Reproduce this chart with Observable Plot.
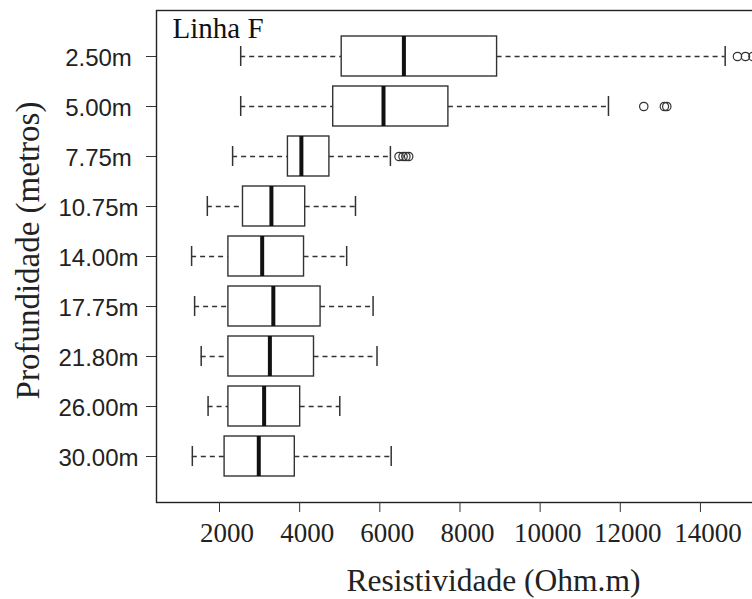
<!DOCTYPE html>
<html><head><meta charset="utf-8">
<script src="https://cdn.jsdelivr.net/npm/d3@7"></script>
<script src="https://cdn.jsdelivr.net/npm/@observablehq/plot@0.6"></script>
<style>
html,body{margin:0;padding:0;background:#fff;overflow:hidden;}
#chart{width:752px;height:599px;overflow:hidden;}
#chart svg{overflow:hidden;}
</style>
</head><body><div id="chart"></div>
<script>
const depths = ["2.50m","5.00m","7.75m","10.75m","14.00m","17.75m","21.80m","26.00m","30.00m"];
const whiskerLow  = [2529, 2529, 2327, 1696, 1304, 1379, 1543, 1715, 1322];
const q1          = [5049, 4837, 3707, 2586, 2222, 2222, 2222, 2222, 2127];
const median      = [6601, 6092, 4043, 3295, 3065, 3343, 3257, 3113, 2980];
const q3          = [8926, 7711, 4742, 4138, 4109, 4522, 4358, 4013, 3879];
const whiskerHigh = [14617, 11705, 6264, 5393, 5173, 5832, 5930, 5001, 6284];
const outlierDepth = ["2.50m","2.50m","2.50m","5.00m","5.00m","5.00m","7.75m","7.75m","7.75m","7.75m"];
const outlierValue = [14924, 15124, 15310, 12586, 13100, 13160, 6480, 6580, 6650, 6720];
const xTicks = [2000, 4000, 6000, 8000, 10000, 12000, 14000];
const panelLabel = "Linha F";
const xTitle = "Resistividade (Ohm.m)";
const yTitle = "Profundidade (metros)";

const rows = depths.map((d, i) => ({depth: d, lo: whiskerLow[i], q1: q1[i], med: median[i], q3: q3[i], hi: whiskerHigh[i]}));
const outliers = outlierValue.map((v, i) => ({depth: outlierDepth[i], value: v}));

const serif = "'Liberation Serif', 'Times New Roman', serif";
const sans = "'Liberation Sans', Arial, sans-serif";
const ink = "#333";
const capInset = 10;

const chart = Plot.plot({
  width: 752,
  height: 599,
  marginLeft: 156,
  marginRight: -78,
  marginTop: 10,
  marginBottom: 97,
  style: {background: "#fff", color: "#222"},
  x: {domain: [428, 17245]},
  y: {type: "band", domain: depths, paddingInner: 0.2, paddingOuter: 0.4615},
  marks: [
    Plot.ruleY(rows, {y: "depth", x1: "lo", x2: "q1", stroke: ink, strokeWidth: 1.3, strokeDasharray: "5,4"}),
    Plot.ruleY(rows, {y: "depth", x1: "q3", x2: "hi", stroke: ink, strokeWidth: 1.3, strokeDasharray: "5,4"}),
    Plot.tickX(rows, {y: "depth", x: "lo", stroke: ink, strokeWidth: 1.5, insetTop: capInset, insetBottom: capInset}),
    Plot.tickX(rows, {y: "depth", x: "hi", stroke: ink, strokeWidth: 1.5, insetTop: capInset, insetBottom: capInset}),
    Plot.barX(rows, {y: "depth", x1: "q1", x2: "q3", fill: "#fff", stroke: ink, strokeWidth: 1.4}),
    Plot.tickX(rows, {y: "depth", x: "med", stroke: "#111", strokeWidth: 4}),
    Plot.dot(outliers, {x: "value", y: "depth", r: 4.2, stroke: ink, strokeWidth: 1.2, fill: "none"}),
    Plot.frame({stroke: "#222", strokeWidth: 1.4}),
    Plot.axisX({ticks: xTicks, tickSize: 10, tickFormat: () => "", label: null, stroke: ink}),
    Plot.axisX({ticks: xTicks, tickSize: 0, tickPadding: 20.5, dx: 7.5, fontSize: 27, fontFamily: serif, label: null, tickFormat: d => String(d), fill: "#222"}),
    Plot.axisY({tickSize: 10, tickFormat: () => "", label: null, stroke: ink}),
    Plot.axisY({tickSize: 0, tickPadding: 58, textAnchor: "middle", dy: 1.5, fontSize: 24, fontFamily: sans, label: null, fill: "#222"}),
    Plot.text([panelLabel], {frameAnchor: "top-left", textAnchor: "start", lineAnchor: "top", dx: 16, dy: 7, fontSize: 29, fontFamily: serif, fill: "#111"}),
    Plot.text([xTitle], {frameAnchor: "bottom", lineAnchor: "middle", dy: 78, fontSize: 31.5, fontFamily: serif, fill: "#222"}),
    Plot.text([yTitle], {frameAnchor: "left", textAnchor: "middle", rotate: -90, lineAnchor: "middle", dx: -128, dy: -6, fontSize: 33, fontFamily: serif, fill: "#222"})
  ]
});
document.getElementById("chart").appendChild(chart);
</script>
</body></html>
